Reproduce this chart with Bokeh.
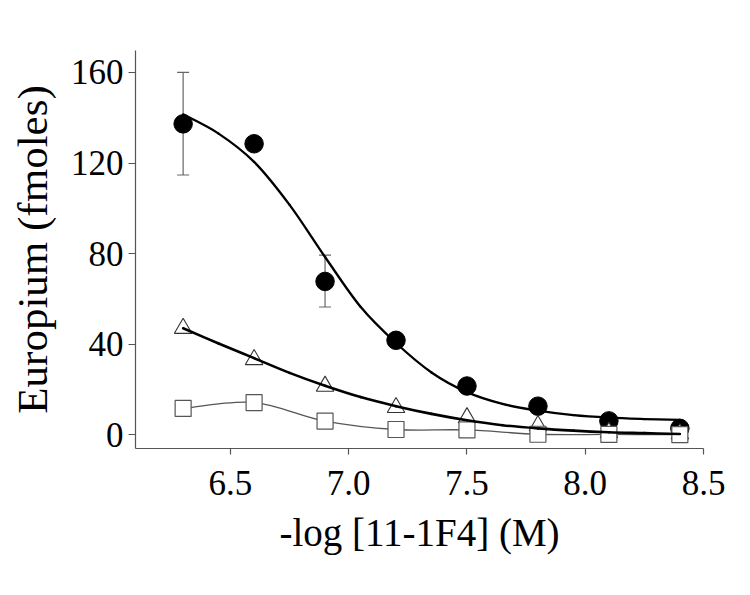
from bokeh.plotting import figure
from bokeh.models import Range1d, FixedTicker, NumeralTickFormatter, Whisker, TeeHead, ColumnDataSource
from bokeh.embed import file_html
from bokeh.resources import INLINE

# ---- data ----
x_conc = [6.3, 6.6, 6.9, 7.2, 7.5, 7.8, 8.1, 8.4]
circle_vals = [137.3, 128.5, 67.7, 41.7, 21.5, 12.6, 6.1, 2.8]
triangle_vals = [47.0, 33.2, 21.4, 12.0, 7.5, 4.0, 1.0, 0.4]
square_vals = [11.6, 14.2, 6.0, 2.3, 2.1, 0.2, 0.1, 0.0]

err_x = [6.3, 6.9]
err_lower = [114.7, 56.4]
err_upper = [160.0, 79.3]

fit_x = [6.3, 6.45, 6.6, 6.75, 6.9, 7.05, 7.2, 7.35, 7.5, 7.65, 7.8, 7.95, 8.1, 8.25, 8.4]
circle_fit = [141.5, 133.0, 120.5, 101.5, 78.5, 56.5, 40.5, 27.5, 18.8, 13.6, 10.6, 8.6, 7.5, 6.9, 6.5]
triangle_fit = [47.0, 40.3, 33.8, 27.3, 21.6, 16.6, 12.6, 9.2, 6.4, 4.2, 2.8, 1.8, 1.1, 0.7, 0.3]

x_ticks = [6.5, 7.0, 7.5, 8.0, 8.5]
y_ticks = [0, 40, 80, 120, 160]
x_title = "-log [11-1F4] (M)"
y_title = "Europium (fmoles)"

FONT = "Liberation Serif"


def smooth_segments(xs, ys):
    """Catmull-Rom spline through the given points, as cubic Bezier pieces."""
    n = len(xs)
    d = dict(x0=[], y0=[], x1=[], y1=[], cx0=[], cy0=[], cx1=[], cy1=[])
    for i in range(n - 1):
        a = max(i - 1, 0)
        b = min(i + 2, n - 1)
        d["x0"].append(xs[i]); d["y0"].append(ys[i])
        d["x1"].append(xs[i + 1]); d["y1"].append(ys[i + 1])
        d["cx0"].append(xs[i] + (xs[i + 1] - xs[a]) / 6.0)
        d["cy0"].append(ys[i] + (ys[i + 1] - ys[a]) / 6.0)
        d["cx1"].append(xs[i + 1] - (xs[b] - xs[i]) / 6.0)
        d["cy1"].append(ys[i + 1] - (ys[b] - ys[i]) / 6.0)
    return ColumnDataSource(d)


p = figure(width=742, height=583, output_backend="svg", toolbar_location=None,
           x_range=Range1d(6.0986, 8.5), y_range=Range1d(-6.1, 169.7),
           min_border_left=135, min_border_right=39, min_border_top=50, min_border_bottom=135)
p.outline_line_color = None
p.grid.visible = False
p.background_fill_color = "white"

# error bars
err_src = ColumnDataSource(dict(x=err_x, lo=err_lower, hi=err_upper))
wh = Whisker(base="x", lower="lo", upper="hi", source=err_src, dimension="height",
             line_color="#666666", line_width=1.2,
             upper_head=TeeHead(size=12, line_color="#666666", line_width=1.2),
             lower_head=TeeHead(size=12, line_color="#666666", line_width=1.2))
p.add_layout(wh)

# square series connecting spline
p.bezier(x0="x0", y0="y0", x1="x1", y1="y1", cx0="cx0", cy0="cy0", cx1="cx1", cy1="cy1",
         source=smooth_segments(x_conc, square_vals), line_color="#555555", line_width=1.3)

# markers
p.scatter(x_conc, circle_vals, marker="circle", size=18.5, fill_color="black", line_color="black")
p.scatter(x_conc, triangle_vals, marker="triangle", size=17.5, fill_color="white",
          line_color="#333333", line_width=1.1)
p.scatter(x_conc, square_vals, marker="square", size=16, fill_color="white",
          line_color="#555555", line_width=1.2)

# fitted curves
p.bezier(x0="x0", y0="y0", x1="x1", y1="y1", cx0="cx0", cy0="cy0", cx1="cx1", cy1="cy1",
         source=smooth_segments(fit_x, circle_fit), line_color="black", line_width=2.3,
         line_cap="round")
p.bezier(x0="x0", y0="y0", x1="x1", y1="y1", cx0="cx0", cy0="cy0", cx1="cx1", cy1="cy1",
         source=smooth_segments(fit_x, triangle_fit), line_color="black", line_width=2.6,
         line_cap="round")

# axes
p.xaxis.ticker = FixedTicker(ticks=x_ticks)
p.xaxis.formatter = NumeralTickFormatter(format="0.0")
p.yaxis.ticker = FixedTicker(ticks=y_ticks)
p.xaxis.axis_label = x_title
p.yaxis.axis_label = y_title
for ax in (p.xaxis, p.yaxis):
    ax.axis_line_color = "#555555"
    ax.axis_line_width = 1.2
    ax.major_tick_line_color = "#555555"
    ax.major_tick_line_width = 1.2
    ax.minor_tick_line_color = None
    ax.major_tick_in = 0
    ax.major_label_text_font = FONT
    ax.major_label_text_font_size = "35px"
    ax.major_label_text_color = "black"
    ax.axis_label_text_font = FONT
    ax.axis_label_text_font_style = "normal"
    ax.axis_label_text_color = "black"
p.xaxis.major_tick_out = 6
p.yaxis.major_tick_out = 7
p.xaxis.major_label_standoff = 16
p.yaxis.major_label_standoff = 5
p.xaxis.axis_label_text_font_size = "39px"
p.yaxis.axis_label_text_font_size = "43px"
p.xaxis.axis_label_standoff = 13
p.yaxis.axis_label_standoff = 12

open("out.html", "w").write(file_html(p, INLINE))
